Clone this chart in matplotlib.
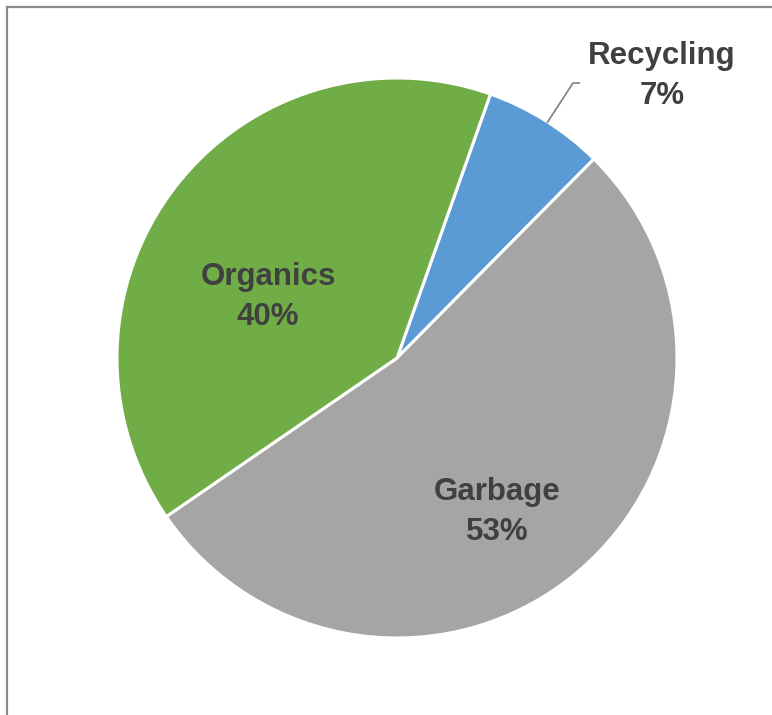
import matplotlib.pyplot as plt

plt.rcParams['font.family'] = ['Liberation Sans', 'DejaVu Sans']

labels = ['Recycling', 'Garbage', 'Organics']
shares = [7, 53, 40]
colors = ['#5B9BD5', '#A5A5A5', '#70AD47']

W, H = 772, 715
fig = plt.figure(figsize=(W / 100, H / 100), dpi=100)
ax = fig.add_axes([0, 0, 1, 1])

cx, cy, r = 397, H - 358, 280
wedges, _ = ax.pie(shares, colors=colors, startangle=70.5, counterclock=False,
                   center=(cx, cy), radius=r, frame=True,
                   wedgeprops=dict(edgecolor='white', linewidth=2.2))
ax.set_xlim(0, W)
ax.set_ylim(0, H)
ax.set_aspect('equal')
ax.axis('off')

txt = dict(ha='center', va='center', fontsize=22.5, fontweight='bold', color='#404040',
           linespacing=1.4)
label_pos = {'Recycling': (662, H - 76), 'Garbage': (497, H - 512), 'Organics': (268, H - 297)}
for name, val in zip(labels, shares):
    x, y = label_pos[name]
    ax.text(x, y, f'{name}\n{val}%', **txt)

# leader line for the small slice
ax.plot([547, 573, 580], [H - 123, H - 83, H - 83], color='#7f7f7f', lw=1.2,
        solid_capstyle='butt')

# frame edges on left and top
fig.add_artist(plt.Line2D([7 / W, 7 / W], [0, 1 - 7 / H], color='#8a8a8a', lw=1.6,
                          transform=fig.transFigure))
fig.add_artist(plt.Line2D([7 / W, 1], [1 - 7 / H, 1 - 7 / H], color='#8a8a8a', lw=1.6,
                          transform=fig.transFigure))

fig.savefig('out.png', dpi=100, facecolor='white')
